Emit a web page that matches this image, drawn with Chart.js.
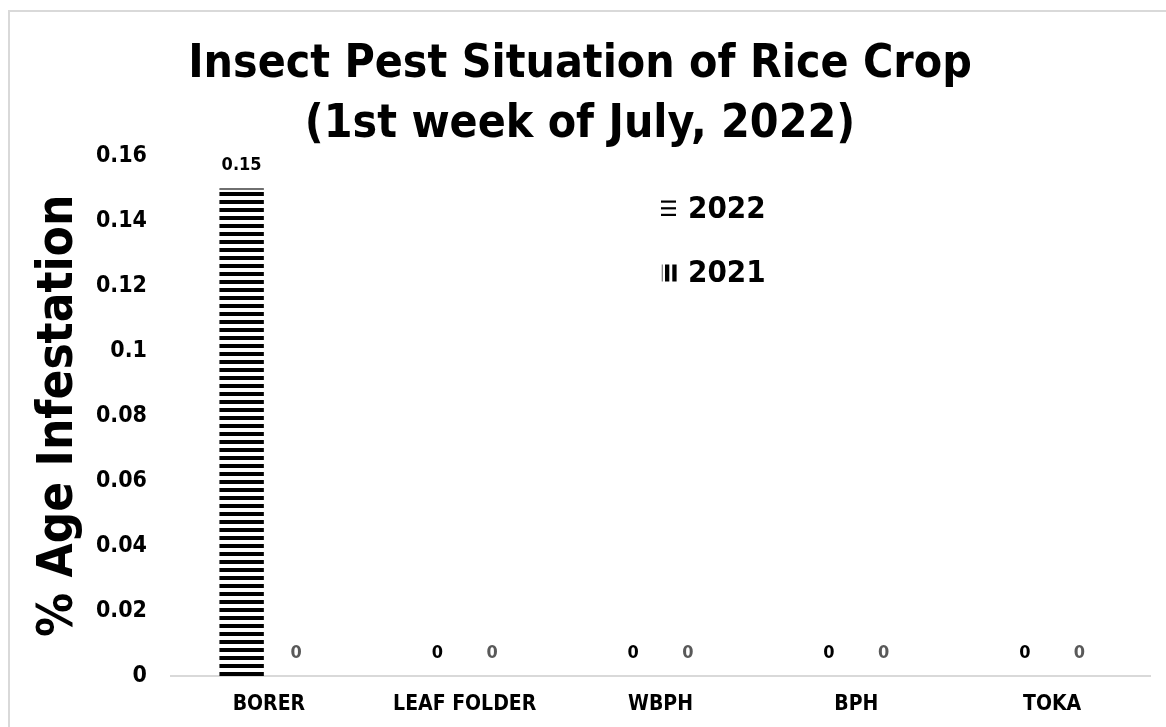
<!DOCTYPE html>
<html>
<head>
<meta charset="utf-8">
<script src="https://cdn.jsdelivr.net/npm/chart.js@4.4.0/dist/chart.umd.min.js"></script>
<style>
  html, body { margin: 0; padding: 0; background: #fff; overflow: hidden; }
  #frame { position: absolute; left: 8px; top: 10px; width: 1170px; height: 730px; border: 2px solid #d9d9d9; box-sizing: border-box; }
  #wrap { position: absolute; left: 0; top: 0; width: 1166px; height: 727px; }
</style>
</head>
<body>
<div id="frame"></div>
<div id="wrap"><canvas id="c" width="1166" height="727"></canvas></div>
<script>
const categories = ["BORER", "LEAF FOLDER", "WBPH", "BPH", "TOKA"];
const values2022 = [0.15, 0, 0, 0, 0];
const values2021 = [0, 0, 0, 0, 0];
const seriesLabels = ["2022", "2021"];
const yTicks = [0, 0.02, 0.04, 0.06, 0.08, 0.1, 0.12, 0.14, 0.16];
const titleLines = ["Insect Pest Situation of Rice Crop", "(1st week of July, 2022)"];
const yTitle = "% Age Infestation";

const FONT = "'DejaVu Sans Condensed', 'DejaVu Sans', sans-serif";

function makePattern(horizontal) {
  const p = document.createElement('canvas');
  p.width = 8; p.height = 8;
  const g = p.getContext('2d');
  g.fillStyle = '#ffffff';
  g.fillRect(0, 0, 8, 8);
  g.fillStyle = '#000000';
  if (horizontal) g.fillRect(0, 0, 8, 4);
  else g.fillRect(0, 0, 4, 8);
  return document.getElementById('c').getContext('2d').createPattern(p, 'repeat');
}
const pat2022 = makePattern(true);
const pat2021 = makePattern(false);

const labelColors = ['#000000', '#595959'];

const dataLabelPlugin = {
  id: 'dataLabels',
  afterDatasetsDraw(chart) {
    const ctx = chart.ctx;
    ctx.save();
    ctx.font = "bold 18px " + FONT;
    ctx.textAlign = 'center';
    ctx.textBaseline = 'middle';
    chart.data.datasets.forEach((ds, di) => {
      const meta = chart.getDatasetMeta(di);
      ctx.fillStyle = labelColors[di];
      meta.data.forEach((el, i) => {
        const v = ds.data[i];
        ctx.fillText(String(v), el.x, el.y - 23);
      });
    });
    ctx.restore();
  }
};

// legend swatches drawn as small striped keys
function drawKey(ctx, di, x, y) {
  ctx.fillStyle = '#000';
  if (di === 0) {
    [0, 6.7, 13.3].forEach(o => ctx.fillRect(x, y + o, 15, 2.2));
  } else {
    ctx.fillStyle = '#777';
    ctx.fillRect(x + 0.7, y, 1.2, 17);
    ctx.fillStyle = '#000';
    ctx.fillRect(x + 4, y, 4.3, 17);
    ctx.fillRect(x + 11.3, y, 4.3, 17);
  }
}

const legendPlugin = {
  id: 'innerLegend',
  afterDraw(chart) {
    const ctx = chart.ctx;
    ctx.save();
    const x0 = 661, ys = [209, 273];
    chart.data.datasets.forEach((ds, di) => {
      const y = ys[di];
      drawKey(ctx, di, x0, y - 8.5);
      ctx.fillStyle = '#000';
      ctx.font = "bold 31px " + FONT;
      ctx.textAlign = 'left';
      ctx.textBaseline = 'middle';
      ctx.fillText(ds.label, x0 + 27, y + 1);
    });
    ctx.restore();
  }
};

new Chart(document.getElementById('c'), {
  type: 'bar',
  data: {
    labels: categories,
    datasets: [
      { label: seriesLabels[0], data: values2022, backgroundColor: pat2022,
        borderColor: '#000', borderSkipped: 'bottom',
        borderWidth: c => (c.raw > 0 ? { top: 1.5, left: 0, right: 0, bottom: 0 } : 0) },
      { label: seriesLabels[1], data: values2021, backgroundColor: pat2021,
        borderColor: '#000', borderSkipped: 'bottom',
        borderWidth: c => (c.raw > 0 ? { top: 1.5, left: 0, right: 0, bottom: 0 } : 0) }
    ]
  },
  options: {
    responsive: false,
    animation: false,
    devicePixelRatio: 1,
    categoryPercentage: 0.558,
    barPercentage: 0.818,
    layout: { padding: { left: 10, right: 16, top: 0, bottom: 0 } },
    plugins: {
      legend: { display: false },
      tooltip: { enabled: false },
      title: {
        display: true,
        text: titleLines,
        color: '#000',
        font: { family: FONT, size: 46, weight: 'bold', lineHeight: 1.3 },
        padding: { top: 35, bottom: 1 }
      }
    },
    scales: {
      x: {
        grid: { display: false, drawTicks: false },
        border: { display: true, color: '#d9d9d9', width: 2 },
        ticks: { color: '#000', font: { family: FONT, size: 21, weight: 'bold' }, padding: 16, maxRotation: 0 },
        afterFit(scale) { scale.height = 51; }
      },
      y: {
        min: 0, max: 0.16,
        afterBuildTicks(scale) { scale.ticks = yTicks.map(v => ({ value: v })); },
        grid: { display: false, drawTicks: false },
        border: { display: false },
        ticks: {
          color: '#000', padding: 24,
          font: { family: FONT, size: 23, weight: 'bold' },
          callback: v => String(Math.round(v * 100) / 100)
        },
        title: {
          display: true, text: yTitle, color: '#000',
          font: { family: FONT, size: 49, weight: 'bold' },
          padding: { top: 20, bottom: 0 }
        },
        afterFit(scale) { scale.width = 161; }
      }
    }
  },
  plugins: [dataLabelPlugin, legendPlugin]
});
</script>
</body>
</html>
